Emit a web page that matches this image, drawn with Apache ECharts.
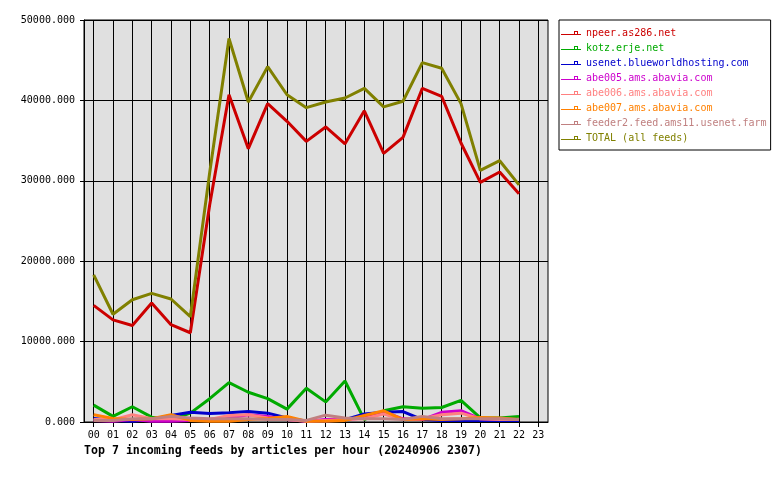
<!DOCTYPE html>
<html>
<head>
<meta charset="utf-8">
<script src="https://cdn.jsdelivr.net/npm/echarts@6/dist/echarts.min.js"></script>
<style>html,body{margin:0;padding:0;background:#fff}#c{width:780px;height:480px}</style>
</head>
<body>
<div id="c"></div>
<script>
const hours = ['00','01','02','03','04','05','06','07','08','09','10','11','12','13','14','15','16','17','18','19','20','21','22','23'];
const yTicks = [0, 10000, 20000, 30000, 40000, 50000];
const seriesNames = ['npeer.as286.net','kotz.erje.net','usenet.blueworldhosting.com','abe005.ams.abavia.com','abe006.ams.abavia.com','abe007.ams.abavia.com','feeder2.feed.ams11.usenet.farm','TOTAL (all feeds)'];
const npeer   = [14500,12700,12000,14800,12100,11100,27000,40700,34000,39600,37400,34900,36700,34600,38700,33400,35400,41500,40500,34700,29800,31100,28400];
const kotz    = [2100,700,1900,600,300,1100,2900,4900,3700,2900,1600,4200,2500,5100,300,1400,1900,1700,1800,2700,500,500,700];
const usenet  = [450,200,100,300,800,1200,1050,1150,1300,1100,500,100,100,300,1000,1200,1300,300,200,200,200,200,200];
const abe005  = [200,100,300,100,100,200,300,500,900,700,300,100,300,300,500,1300,400,300,1200,1400,400,300,300];
const abe006  = [300,300,900,400,400,300,300,800,900,500,300,100,200,300,400,1000,300,400,900,1100,400,300,300];
const abe007  = [900,450,300,400,900,200,100,100,300,450,700,100,100,200,800,1400,300,400,300,400,550,500,300];
const feeder2 = [200,200,400,400,700,500,400,400,400,300,300,200,850,500,400,400,300,700,400,400,400,400,300];
const total   = [18300,13400,15200,16000,15300,13100,31000,47700,39800,44200,40700,39100,39800,40300,41500,39200,39900,44700,44000,39600,31300,32500,29500];
const colors = ['#cc0000','#00aa00','#0000cc','#cc00cc','#ff8080','#ff8000','#c08080','#808000'];
const allData = [npeer,kotz,usenet,abe005,abe006,abe007,feeder2,total];

const mono = 'DejaVu Sans Mono';
const iconPath = 'path://M0,3H13V0H17V3H20V4H0Z M14,1V3H16V1Z';

const chart = echarts.init(document.getElementById('c'), null, {renderer: 'canvas'});
chart.setOption({
  animation: false,
  backgroundColor: '#ffffff',
  title: {
    text: 'Top 7 incoming feeds by articles per hour (20240906 2307)',
    left: 84, top: 445, padding: 0,
    textStyle: {fontFamily: mono, fontWeight: 'bold', fontSize: 11.6, color: '#000'}
  },
  legend: {
    orient: 'vertical',
    left: 559, top: 20,
    padding: [8, 4, 7, 2],
    borderColor: '#000', borderWidth: 1,
    backgroundColor: '#fff',
    itemWidth: 20, itemHeight: 10, itemGap: 5,
    symbolKeepAspect: true,
    itemStyle: {borderWidth: 0},
    textStyle: {fontFamily: mono, fontSize: 10, lineHeight: 10},
    data: seriesNames.map((n, i) => ({name: n, icon: iconPath, textStyle: {color: colors[i]}}))
  },
  grid: {
    left: 84, right: 232, top: 20, bottom: 58,
    show: true, backgroundColor: '#e0e0e0', borderColor: '#000', borderWidth: 1
  },
  xAxis: {
    type: 'category',
    data: hours,
    boundaryGap: true,
    axisLine: {lineStyle: {color: '#000', width: 1}},
    axisTick: {show: true, alignWithLabel: true, length: 5, lineStyle: {color: '#000'}},
    splitLine: {show: true, alignWithLabel: true, lineStyle: {color: '#000', width: 1}},
    axisLabel: {fontFamily: mono, fontSize: 10, color: '#000', margin: 8, interval: 0}
  },
  yAxis: {
    type: 'value',
    min: yTicks[0], max: yTicks[yTicks.length - 1], interval: 10000,
    axisLine: {show: true, lineStyle: {color: '#000'}},
    axisTick: {show: true, length: 4, lineStyle: {color: '#000'}},
    splitLine: {show: true, lineStyle: {color: '#000', width: 1}},
    axisLabel: {fontFamily: mono, fontSize: 10, color: '#000', margin: 9,
      formatter: v => v.toFixed(3)}
  },
  series: seriesNames.map((n, i) => ({
    name: n,
    type: 'line',
    data: allData[i],
    showSymbol: false,
    symbol: 'none',
    lineStyle: {color: colors[i], width: 3},
    itemStyle: {color: colors[i]},
    emphasis: {disabled: true}
  }))
});
</script>
</body>
</html>
